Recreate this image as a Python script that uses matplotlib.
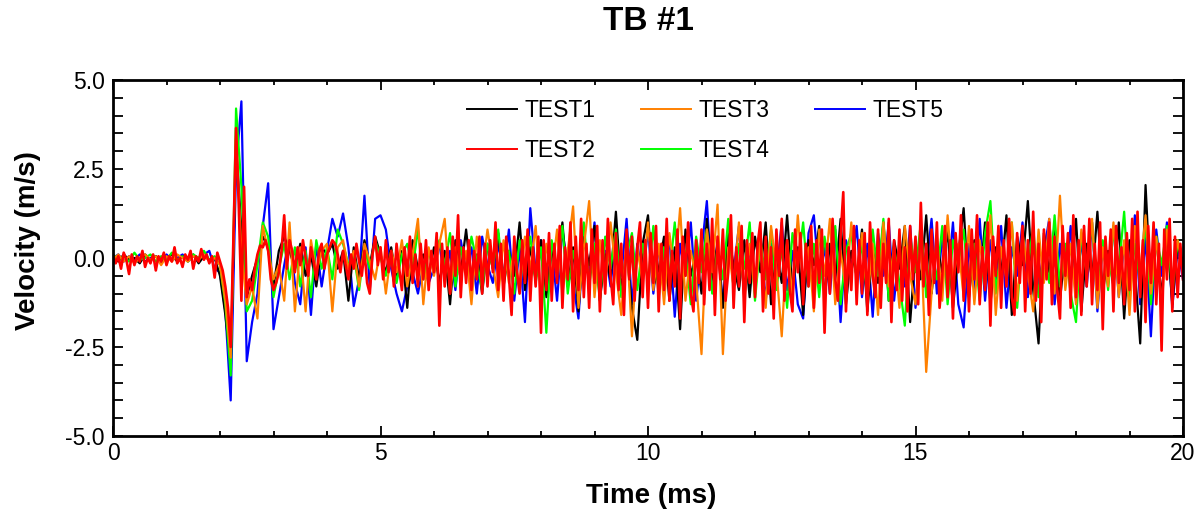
"""
TB #1 - velocidade x tempo para os cinco ensaios (TEST1..TEST5).
Valores lidos do grafico original: TEST2 a cada 0.05 ms, demais a cada 0.1 ms.
"""
import matplotlib
matplotlib.use('Agg')
import matplotlib.pyplot as plt
from matplotlib.lines import Line2D
from matplotlib.ticker import MultipleLocator, FormatStrFormatter
import numpy as np

TITLE = 'TB #1'
X_LABEL = 'Time (ms)'
Y_LABEL = 'Velocity (m/s)'

LABELS = ['TEST1', 'TEST2', 'TEST3', 'TEST4', 'TEST5']
COLORS = {'TEST1': '#000000', 'TEST2': '#ff0000', 'TEST3': '#ff8000',
          'TEST4': '#00ff00', 'TEST5': '#0000ff'}
DRAW_ORDER = ['TEST5', 'TEST1', 'TEST4', 'TEST3', 'TEST2']

X_TICKS = [0, 5, 10, 15, 20]
Y_TICKS = [-5.0, -2.5, 0.0, 2.5, 5.0]

# TEST1 - 0.0 a 20.0 ms, passo 0.1 ms
test1 = [
    0.05, -0.10, 0.10, -0.05, 0.00, -0.15, 0.10, -0.05, 0.05, -0.10, 0.00, 0.10, -0.10, 0.05, -0.05, 0.10, -0.15, 0.05, -0.05, 0.00,
    -0.50, -1.60, -3.00, 3.20, 0.80, -1.10, -0.50, 0.00, 0.60, 0.30, -0.80, 0.20, 0.60, 0.20, -0.30, 0.40, -0.50, 0.10, -0.80, 0.30,
    0.10, 0.40, -0.30, 0.20, -1.20, 0.30, -0.60, 0.50, -0.20, 0.60, 0.10, -0.40, 0.30, -0.60, 0.20, -1.40, 0.50, -0.30, 0.10, -0.50,
    0.30, -0.70, 0.20, -1.30, 0.50, -0.40, 0.80, -0.60, 0.10, -1.00, 0.40, -0.30, 0.70, -0.80, 0.20, -0.50, 1.00, -0.90, 0.30, -0.60,
    0.50, -1.10, 0.20, -0.40, 1.00, -0.80, 0.30, -1.50, 0.60, -0.20, 0.90, -1.20, 0.10, -0.60, 1.30, -0.90, 0.20, -1.40, -2.30, 0.40,
    1.20, -0.80, -0.30, 0.60, -1.20, 0.30, -2.00, 0.80, -0.50, 0.20, -1.00, 1.10, -0.60, 0.40, -1.40, 0.70, -0.20, -0.90, 0.50, -1.10,
    0.60, -0.40, 1.00, -1.30, 0.20, -0.70, 1.20, -0.90, 0.30, -1.60, 0.50, -0.20, 0.90, -1.10, 0.40, -0.60, 1.10, -1.30, 0.20, -0.50,
    0.80, -1.50, 0.30, -0.70, 1.00, -1.20, 0.50, -0.30, 0.90, -1.80, 0.20, -0.60, 1.20, -1.00, 0.40, -0.40, 0.80, -1.40, 0.10, 1.40,
    -1.10, 0.50, -0.80, 1.00, -1.30, 0.30, -0.50, 1.20, -1.60, 0.60, -0.20, 1.60, -0.90, -2.40, 0.70, -0.40, 0.90, -1.20, 0.30, -0.70,
    1.10, -1.50, 0.40, -0.60, 1.30, -1.00, 0.20, -0.80, 1.00, -1.70, 0.50, -0.30, -2.40, 2.05, -1.00, 0.60, -1.10, 0.80, -1.30, 0.40,
    -0.20,
]

# TEST2 - 0.0 a 20.0 ms, passo 0.05 ms
test2 = [
    0.10, -0.15, 0.05, -0.30, 0.15, -0.05, -0.45, 0.10, -0.20, 0.05, -0.10, 0.20, -0.25, 0.00, -0.15, 0.10, -0.35, 0.05, -0.10, 0.15,
    -0.20, 0.05, -0.10, 0.30, -0.15, 0.00, -0.25, 0.10, -0.05, 0.20, -0.30, 0.05, -0.10, 0.25, -0.05, 0.10, -0.15, 0.05, -0.55, 0.15,
    -0.10, -0.35, -0.80, -1.40, -2.50, 0.50, 3.65, 1.50, -1.20, 2.00, -1.10, -0.60, -0.90, -0.30, 0.10, 0.35, 0.30, 0.50, 0.20, -0.60,
    -0.90, -0.70, -0.40, 0.20, 1.20, -0.30, 0.50, 0.20, -0.40, 0.30, -0.20, 0.50, 0.00, -0.50, 0.30, -0.10, -0.60, 0.20, 0.40, -0.30,
    0.10, 0.30, 0.50, 0.40, 0.10, -0.40, 0.20, -0.20, -0.60, 0.10, -0.30, 0.40, -0.10, -0.50, 0.20, -0.70, -1.00, 0.10, 0.60, -0.20,
    0.30, -0.60, 0.50, -0.40, 0.20, -0.80, 0.40, -0.30, -0.90, 0.30, -0.50, 0.60, -0.70, 0.10, -0.80, 0.40, -0.60, 0.50, -0.90, 0.20,
    -0.40, 0.70, -1.90, 0.40, -0.80, 0.30, -1.00, 0.60, -0.50, 1.20, -1.10, 0.30, -0.70, 0.50, -0.90, 0.20, -0.60, 0.60, -1.00, 0.40,
    -0.80, 0.50, -0.40, 1.00, -0.90, 0.40, -1.20, 0.60, -0.50, -1.60, 0.60, -0.40, -1.00, 0.50, -0.70, 0.80, -1.20, 0.30, -0.80, 0.60,
    -2.10, 0.50, -0.90, 0.70, -1.20, 0.40, -0.70, 0.90, -1.40, 0.30, -0.60, 1.00, -1.50, 0.60, -0.90, 1.10, -1.10, 0.40, -1.40, 0.80,
    -0.70, 0.90, -1.50, 0.50, -1.00, 1.10, -0.50, -1.30, 0.70, -0.90, 0.40, -1.60, 0.80, -0.60, 0.60, -1.20, 0.30, 1.00, -1.10, 0.50,
    -1.40, 0.70, -0.70, 0.90, -1.50, 0.40, -0.90, 1.10, -1.20, 0.20, -0.80, 0.80, -1.70, 0.60, -0.50, 1.00, -1.00, -1.50, 0.50, -0.70,
    0.80, -1.30, 0.40, -0.90, 1.10, -1.60, 0.60, -0.60, 0.80, -1.20, -0.40, 1.20, -1.40, 0.30, -0.80, 0.90, -1.80, 0.50, -0.70, 0.70,
    -1.10, 0.40, 1.00, -1.50, 0.60, -1.00, 0.30, -1.70, 0.80, -0.50, 1.10, -1.20, 0.50, -0.90, -1.50, 0.80, -0.40, 0.70, -1.30, 0.40,
    -0.80, 0.90, -1.40, 0.50, -0.70, 0.80, -2.10, 0.40, -1.00, 1.10, -0.60, -1.20, 0.60, 1.85, -1.50, 0.30, -0.90, 0.90, -1.30, 0.50,
    -1.00, 0.70, -1.60, 1.00, -0.50, -1.10, 0.80, -1.40, 0.40, -0.70, 1.10, -1.80, 0.50, -0.90, 0.80, -1.20, 0.30, -1.50, 0.90, -0.60,
    0.60, -1.30, 1.55, -0.80, 0.40, -1.60, 0.80, -0.70, 1.00, -1.40, -0.50, 0.90, -1.10, 0.50, -1.70, 0.70, -0.40, 1.20, -1.20, 0.40,
    -1.50, 0.80, -0.60, 1.20, -1.30, 0.30, -0.90, 1.00, -1.90, 0.60, -0.50, 0.90, -1.40, 0.50, -0.80, 1.10, -1.10, -1.60, 0.70, -0.70,
    0.90, -1.50, 0.50, -1.00, 1.30, -1.20, 0.40, -1.80, 0.80, -0.60, 1.00, -1.30, 0.60, -0.90, -1.70, 0.90, -0.50, 0.70, -1.40, 1.20,
    -1.10, 0.50, -1.60, 0.90, -0.80, 1.10, -1.30, 0.40, -0.90, 1.00, -2.00, 0.60, -0.50, 0.80, -1.50, 0.90, -0.70, 0.30, -1.30, 0.70,
    -0.90, 1.10, -1.50, 1.30, -1.10, 0.50, -1.80, 0.90, -0.70, 1.00, -1.30, 0.40, -2.60, 0.80, -0.60, 1.10, -1.50, 0.60, -1.10, 0.40,
    -0.60,
]

# TEST3 - 0.0 a 20.0 ms, passo 0.1 ms
test3 = [
    -0.05, 0.10, -0.10, 0.05, -0.15, 0.00, 0.10, -0.05, 0.05, -0.20, 0.05, -0.10, 0.10, 0.00, -0.10, 0.05, -0.05, 0.10, -0.10, 0.00,
    -0.20, -1.20, -2.80, 3.40, 0.20, -1.30, -0.80, -1.70, 0.90, 0.20, -0.60, -0.20, -1.20, 1.00, -1.50, 0.30, -1.50, 0.50, -0.40, 0.20,
    0.40, -1.50, 0.30, 0.50, -0.30, 0.20, -0.80, 0.40, -0.10, -0.60, 0.30, -1.00, 0.20, -0.40, 0.50, -0.80, 0.10, 1.10, -1.30, 0.30,
    -0.50, 0.40, 1.10, -1.00, 0.30, -0.60, 0.20, -1.30, 0.60, -0.40, 0.80, -0.20, -1.10, 0.50, -0.70, 0.30, -0.90, 0.60, -0.30, 0.90,
    -1.20, 0.40, -0.50, 0.80, -1.00, 0.20, 1.45, -1.40, 0.30, 1.60, -1.10, 0.50, -0.80, 1.00, -0.40, -1.60, 0.60, -2.20, 0.30, -0.70,
    1.00, -0.90, 0.40, -1.30, 0.70, -0.50, 1.40, -1.20, 0.20, -0.60, -2.70, 0.80, -0.40, 1.50, -2.70, 0.30, -0.80, 1.00, -1.20, 0.40,
    -1.00, 0.60, -1.40, 0.90, -0.30, -2.20, 0.50, -1.10, 1.20, -0.70, 0.30, -1.50, 0.80, -0.50, 1.10, -1.30, 0.20, -0.90, 1.00, -0.60,
    0.70, -1.20, 0.40, -1.60, 1.00, -0.80, 0.30, -1.40, 0.90, -0.50, -1.30, 0.50, -3.20, -1.00, 0.60, -1.20, 1.20, -0.70, 0.40, -1.10,
    0.90, -1.30, 0.50, -0.80, 1.20, -1.60, 0.30, -0.60, 1.00, -1.20, 0.70, -0.40, -1.50, 0.80, -0.70, 1.10, -1.00, 1.75, -0.90, 0.40,
    -1.30, 0.80, -0.50, 1.10, -1.40, 0.30, -0.80, 1.00, -1.10, 0.50, -1.60, 0.90, -0.40, 1.20, -1.00, 0.60, -1.40, 0.80, -0.60, 0.50,
    -0.30,
]

# TEST4 - 0.0 a 20.0 ms, passo 0.1 ms
test4 = [
    0.10, -0.05, 0.05, -0.10, 0.15, -0.05, 0.00, 0.10, -0.10, 0.05, -0.05, 0.15, -0.05, 0.05, -0.10, 0.10, 0.00, 0.20, -0.05, 0.05,
    -0.20, -1.30, -3.30, 4.20, 2.00, -1.50, -1.20, -0.20, 1.00, 0.60, -1.10, -0.30, 0.40, -0.60, 0.30, -0.80, 0.20, -1.10, 0.50, -0.30,
    0.30, -0.60, 0.80, 0.40, -0.20, 0.10, -0.90, 0.30, -0.30, 0.50, 0.00, -0.50, 0.20, -0.70, 0.10, 0.40, -0.30, 0.80, -0.60, 0.20,
    -0.40, 0.50, -0.20, 0.70, -0.80, 0.30, -0.50, 0.60, -0.10, -0.90, 0.40, -0.30, 0.80, -0.60, 0.20, -1.00, 0.50, -0.20, 0.60, -0.70,
    0.30, -2.10, 0.50, -0.40, 0.90, -1.00, 0.20, -0.60, 1.00, -0.80, 0.40, -1.20, 0.60, -0.30, 0.80, -1.10, 0.10, 0.70, -0.90, 0.40,
    -0.70, 0.90, -1.10, 0.30, -0.50, 1.00, -0.80, 0.20, -1.30, 0.60, -0.40, 0.80, -1.00, 0.30, -0.60, 1.10, -0.90, 0.40, -0.30, 1.00,
    -1.20, 0.50, -0.60, 0.80, -0.90, 0.30, -1.40, 0.70, -0.20, 1.00, -0.80, 0.40, -1.10, 0.60, -0.50, 0.90, -1.30, 0.20, 0.70, -0.60,
    0.40, -1.00, 0.80, -0.50, 1.10, -1.20, 0.30, -0.70, -1.90, 0.60, -0.40, 1.00, -1.10, 0.20, -0.60, 0.90, -1.30, 0.50, -0.20, 0.80,
    -0.90, 0.40, -1.20, 0.70, 1.60, -1.00, 0.30, -0.50, 1.00, -1.40, 0.60, -0.30, 0.90, -1.10, 0.20, -0.70, 1.20, -0.80, 0.40, -1.00,
    -1.80, 0.70, -0.40, 1.00, -1.20, 0.50, -0.90, 0.80, -0.30, 1.30, -1.10, 0.40, -0.70, 1.00, -1.30, 0.60, -0.20, 0.90, -1.00, 0.50,
    -0.20,
]

# TEST5 - 0.0 a 20.0 ms, passo 0.1 ms
test5 = [
    0.00, 0.10, -0.10, 0.05, -0.05, 0.10, -0.10, 0.00, 0.05, -0.10, 0.10, -0.05, 0.00, 0.10, -0.10, 0.05, -0.05, 0.10, 0.20, -0.30,
    -0.40, -1.50, -4.00, 2.50, 4.40, -2.90, -1.80, -1.00, 0.90, 2.10, -2.00, -1.10, -0.20, 0.60, -0.70, -1.30, 0.30, -1.60, 0.40, -0.80,
    0.20, 1.10, 0.60, 1.25, 0.30, -1.35, -0.60, 1.75, -0.90, 1.10, 1.20, 0.80, -0.30, -1.00, -1.50, -0.80, -0.40, -1.00, -0.20, -0.70,
    -0.30, 0.40, -0.60, 0.20, -0.90, 0.50, -0.40, 0.30, -1.00, 0.60, -0.20, -0.70, 0.40, -0.50, 0.80, -1.20, 0.30, -1.80, 1.40, -0.40,
    0.50, -0.90, 0.30, -1.20, 0.80, -0.30, -0.70, -1.70, 0.60, -0.40, 1.00, -1.10, 0.20, -0.80, 0.70, -0.50, 1.10, -1.30, 0.40, -0.60,
    0.80, -1.00, 0.30, -0.70, 0.60, -1.65, 0.40, -0.50, 1.00, -1.20, 0.20, 1.60, -0.90, 0.50, -1.30, 0.70, -0.40, 0.90, -1.10, 0.30,
    -0.80, 0.60, -1.20, 0.40, -0.50, 1.00, -0.90, 0.20, -1.30, -1.70, 0.70, 1.20, -0.60, 0.30, -1.00, 0.80, -1.80, 0.50, -0.30, 0.90,
    -1.10, 0.40, -1.65, 0.70, -0.50, 1.00, -1.20, 0.30, -0.80, 0.90, -1.40, 0.50, -0.30, 1.10, -1.00, 0.60, -0.70, 1.00, -1.30, -1.95,
    0.40, -0.90, 1.10, -1.20, 0.50, -0.60, 0.90, -1.40, 0.30, -0.50, 1.00, -1.10, 0.60, -0.80, 0.20, 1.10, -1.30, 0.40, -0.70, 0.90,
    -1.20, 0.50, -0.80, 1.00, -1.50, 0.30, -0.60, 0.90, -1.10, 0.40, -0.90, 1.20, -1.30, 0.60, -2.20, 0.80, -0.50, 1.00, -1.40, 0.30,
    -0.60,
]

SERIES = {'TEST1': test1, 'TEST2': test2, 'TEST3': test3, 'TEST4': test4, 'TEST5': test5}


def time_axis(values):
    """Grade de tempo (ms) de 0 a 20 com o numero de amostras da serie."""
    return np.linspace(0.0, 20.0, len(values))


def main():
    plt.rcParams.update({'font.family': ['Liberation Sans', 'DejaVu Sans'],
                         'axes.unicode_minus': False})

    W, H = 1202, 516
    fig = plt.figure(figsize=(W / 100, H / 100), dpi=100)
    ax = fig.add_axes([113 / W, 1 - 436 / H, 1070 / W, 356 / H])

    for name in DRAW_ORDER:
        y = SERIES[name]
        lw = 1.9 if name == 'TEST2' else 1.6
        ax.plot(time_axis(y), y, color=COLORS[name], linewidth=lw)

    ax.set_xlim(0, 20)
    ax.set_ylim(-5, 5)
    ax.set_xticks(X_TICKS)
    ax.set_yticks(Y_TICKS)
    ax.xaxis.set_minor_locator(MultipleLocator(1))
    ax.yaxis.set_minor_locator(MultipleLocator(0.5))
    ax.yaxis.set_major_formatter(FormatStrFormatter('%.1f'))

    ax.tick_params(which='both', direction='in', top=True, right=True,
                   width=1.3, labelsize=16.5)
    ax.tick_params(axis='x', which='major', length=7.2, pad=4)
    ax.tick_params(axis='x', which='minor', length=3.6)
    ax.tick_params(axis='y', which='both', length=7.2, pad=6)
    for sp in ax.spines.values():
        sp.set_linewidth(2.0)

    handles = [Line2D([], [], color=COLORS[n], linewidth=1.4) for n in LABELS]
    ax.legend(handles, LABELS, ncol=3, loc='center',
              bbox_to_anchor=((705 - 113) / 1070, (436 - 130.5) / 356),
              frameon=False, fontsize=16.5, handlelength=2.2,
              handletextpad=0.3, columnspacing=2.0, labelspacing=0.75)

    fig.text(648 / W, 1 - 21 / H, TITLE, ha='center', va='center',
             fontsize=24, fontweight='bold')
    fig.text(651 / W, 1 - 496 / H, X_LABEL, ha='center', va='center',
             fontsize=20, fontweight='bold')
    fig.text(28 / W, 1 - 241 / H, Y_LABEL, ha='center', va='center',
             rotation=90, fontsize=20, fontweight='bold')

    fig.savefig('out.png', dpi=100)
    plt.close(fig)


if __name__ == '__main__':
    main()
